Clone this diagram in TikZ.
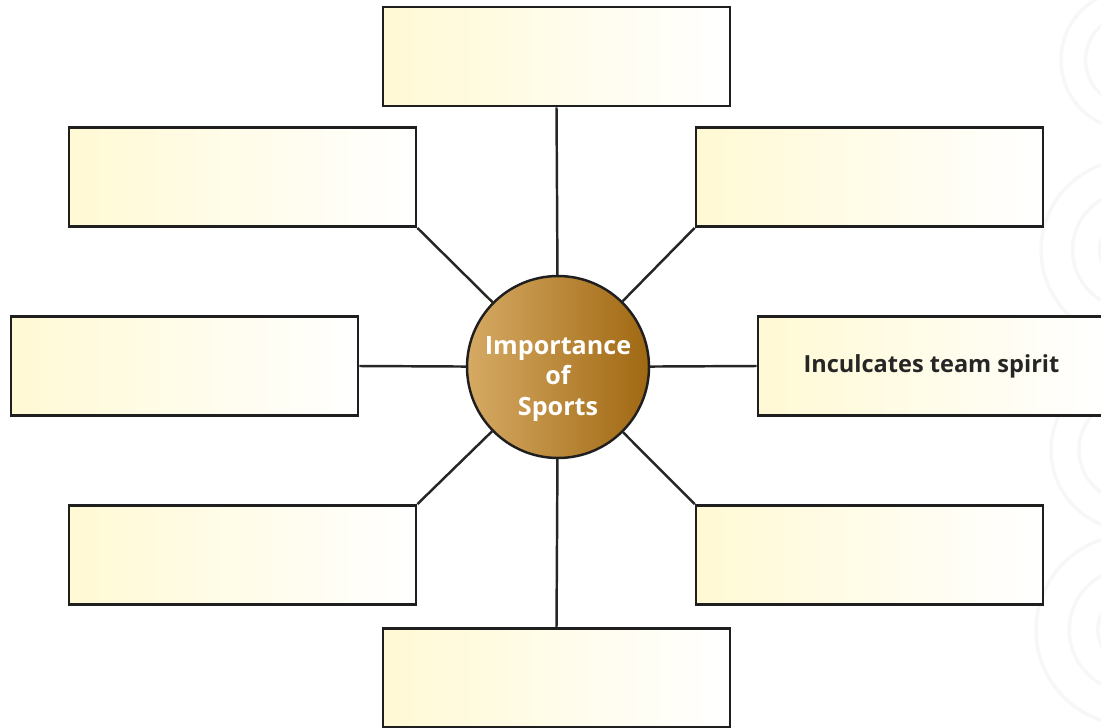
\documentclass[tikz,border=0pt]{standalone}
\usepackage{fontspec}
\setmainfont{Open Sans}
\begin{document}
\begin{tikzpicture}[x=0.02cm,y=-0.02cm,
  blank/.style={draw=black!88, line width=1.6pt, rectangle,
    minimum width=6.94cm, minimum height=1.98cm,
    left color=cream, right color=white, inner sep=0pt,
    font=\fontsize{13.4}{16}\selectfont\bfseries, text=black!85},
  hub/.style={draw=black!88, line width=1.4pt, circle, minimum size=3.64cm,
    left color=hubL, right color=hubR, inner sep=0pt},
  hubtext/.style={align=center, font=\fontsize{14.3}{17.6}\selectfont\bfseries, text=white},
  link/.style={draw=black!85, line width=1.4pt},
  swirl/.style={draw=black!3, line width=2pt}]
\definecolor{hubL}{RGB}{214,170,100}
\definecolor{hubR}{RGB}{160,104,18}
\definecolor{cream}{RGB}{255,249,212}
\useasboundingbox (0,0) rectangle (1101,727);
\clip (0,0) rectangle (1101,727);
% faint ornamental swirls along the right edge
\foreach \cy/\r in {60/70,250/90,450/80,630/95}{
  \draw[swirl] (1101+30,\cy) circle[radius=\r];
  \draw[swirl] (1101+30,\cy) circle[radius=\r*0.65];
  \draw[swirl] (1101+30,\cy) circle[radius=\r*0.35];
}
% hub and the eight surrounding boxes
\node[hub] (c) at (558,367) {};
\node[hubtext] (ctext) at (558,379) {Importance\\of\\Sports};
\node[blank] (t)  at (556.5,56.5) {};
\node[blank] (ul) at (242.5,177) {};
\node[blank] (ur) at (869.5,177) {};
\node[blank] (l)  at (184.5,366) {};
\node[blank] (r)  at (931.5,366) {Inculcates team spirit};
\node[blank] (ll) at (242.5,555) {};
\node[blank] (lr) at (869.5,555) {};
\node[blank] (b)  at (556.5,678) {};
% spokes
\draw[link] (c) -- (t.south);
\draw[link] (c) -- (b.north);
\draw[link] (c) -- (l.east);
\draw[link] (c) -- (r.west);
\draw[link] (c) -- (ul.south east);
\draw[link] (c) -- (ur.south west);
\draw[link] (c) -- (ll.north east);
\draw[link] (c) -- (lr.north west);
\end{tikzpicture}
\end{document}
